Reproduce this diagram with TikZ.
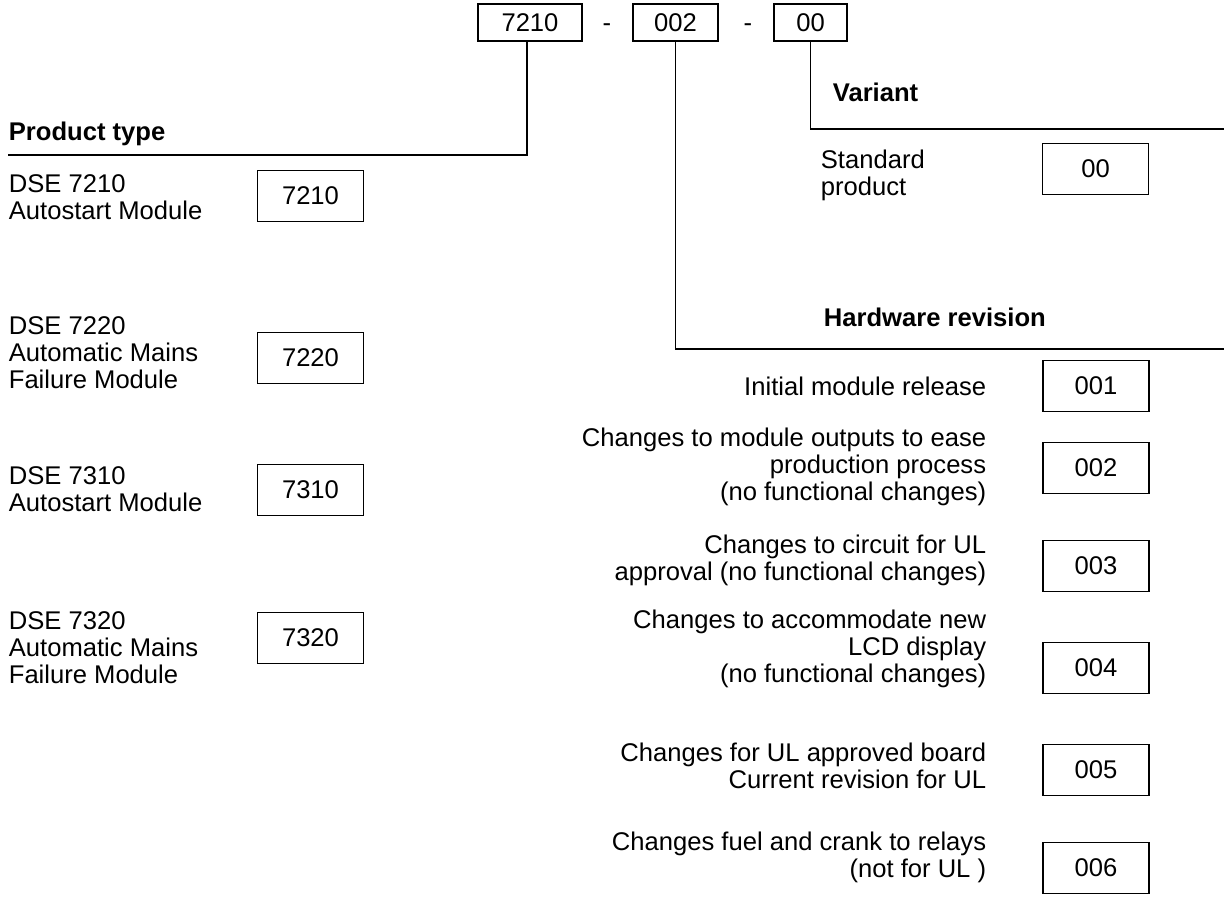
\documentclass[tikz,border=0pt]{standalone}
\usepackage{fontspec}
\setmainfont{Liberation Sans}
\begin{document}
\fontsize{19.2}{20.25}\selectfont
\begin{tikzpicture}[x=0.75pt,y=-0.75pt,line width=1.3pt,
  numbox/.style={draw,inner sep=0pt,minimum width=79.5pt,minimum height=38.25pt},
  topbox/.style={draw,inner sep=0pt,minimum height=27.75pt},
  ldesc/.style={inner sep=0pt,align=left,anchor=west},
  rdesc/.style={inner sep=0pt,align=right,anchor=east},
  head/.style={inner sep=0pt,anchor=base west,font=\bfseries}]
\useasboundingbox (0,0) rectangle (1224,898);

% part number on top
\node[topbox,minimum width=78pt](c7210) at(530,22.5){7210};
\node[anchor=base](d1) at(607,32){-};
\node[topbox,minimum width=63.75pt](c002) at(675.5,22.5){002};
\node[anchor=base](d2) at(748,32){-};
\node[topbox,minimum width=54.75pt](c00) at(810.5,22.5){00};

\coordinate(pt) at(8,155);
\coordinate(hw) at(1224,349);
\coordinate(va) at(1224,129);
\draw([xshift=-2.25pt]c7210.south)|-(pt);
\draw(c002.south)|-(hw);
\draw(c00.south)|-(va);

\node[head](ptype) at(8,141){Product type};
\node[head](var) at(832,102){Variant};
\node[head](hwrev) at(823,327){Hardware revision};

% product type
\node[ldesc](l7210) at(8,197){DSE 7210\\Autostart Module};
\node[ldesc](l7220) at(8,353){DSE 7220\\Automatic Mains\\Failure Module};
\node[ldesc](l7310) at(8,489){DSE 7310\\Autostart Module};
\node[ldesc](l7320) at(8,648){DSE 7320\\Automatic Mains\\Failure Module};
\node[numbox](b7210) at(310.5,196){7210};
\node[numbox](b7220) at(310.5,358){7220};
\node[numbox](b7310) at(310.5,490){7310};
\node[numbox](b7320) at(310.5,638){7320};

% variant
\node[ldesc](lstd) at(820,175){Standard\\product};
\node[numbox](b00) at(1095.5,169){00};

% hardware revision
\node[rdesc](r001) at(987,386){Initial module release};
\node[rdesc](r002) at(987,467){Changes to module outputs to ease\\production process\\(no functional changes)};
\node[rdesc](r003) at(987,560){Changes to circuit for UL\\approval (no functional changes)};
\node[rdesc](r004) at(987,649){Changes to accommodate new\\LCD display\\(no functional changes)};
\node[rdesc](r005) at(987,766){Changes for UL approved board\\Current revision for UL};
\node[rdesc](r006) at(987,857){Changes fuel and crank to relays\\(not for UL )};
\node[numbox](b001) at(1096,386){001};
\node[numbox](b002) at(1096,468){002};
\node[numbox](b003) at(1096,566){003};
\node[numbox](b004) at(1096,668){004};
\node[numbox](b005) at(1096,770){005};
\node[numbox](b006) at(1096,868){006};
\end{tikzpicture}
\end{document}
